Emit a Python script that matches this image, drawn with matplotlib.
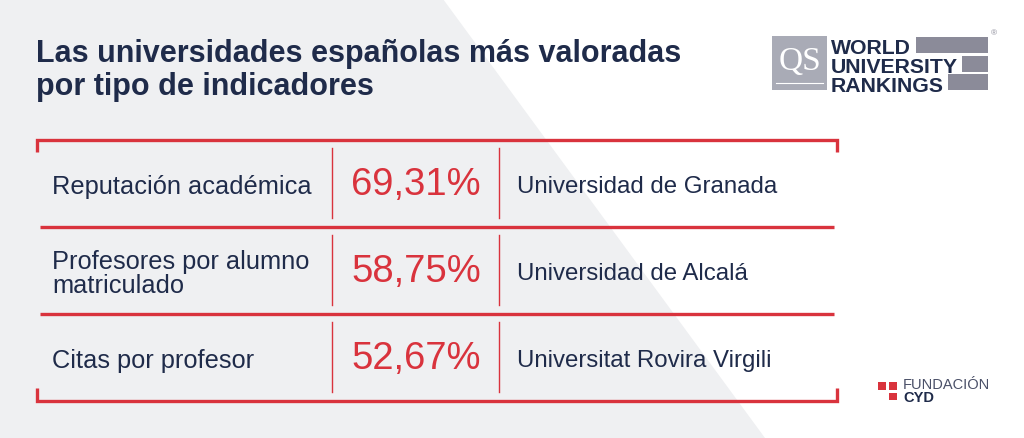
import matplotlib
matplotlib.use("Agg")
import matplotlib.pyplot as plt
from matplotlib.patches import Polygon, Rectangle

# ── datos ────────────────────────────────────────────────
indicadores   = ["Reputación académica", "Profesores por alumno\nmatriculado", "Citas por profesor"]
porcentajes   = [69.31, 58.75, 52.67]
universidades = ["Universidad de Granada", "Universidad de Alcalá", "Universitat Rovira Virgili"]
titulo        = ["Las universidades españolas más valoradas", "por tipo de indicadores"]
qs_lineas     = ["WORLD", "UNIVERSITY", "RANKINGS"]

NAVY = "#1f2b4a"
RED  = "#d9333d"
GRAY = "#eff0f2"
FONT = "Liberation Sans"

W, H = 1024, 439
fig = plt.figure(figsize=(W / 100, H / 100), dpi=100)
ax = fig.add_axes([0, 0, 1, 1])
ax.set_xlim(0, W)
ax.set_ylim(H, 0)
ax.axis("off")
fig.patch.set_facecolor("white")

# fondo gris con diagonal
ax.add_patch(Polygon([(0, 0), (443, 0), (765, H), (0, H)], closed=True,
                     facecolor=GRAY, edgecolor="none", zorder=0))

# título, una línea cada vez
for linea, yb in zip(titulo, [62, 95]):
    ax.text(36, yb, linea, fontsize=22, fontweight="bold", color=NAVY,
            family=FONT, va="baseline", ha="left")

# ── tabla ────────────────────────────────────────────────
top, bottom = 141, 402
left, right = 37, 837
row_h = (bottom - top) / len(indicadores)
lw_main = 2.4

ax.plot([left, left, right, right], [153, top, top, 153], color=RED,
        lw=lw_main, solid_capstyle="butt", solid_joinstyle="miter")
ax.plot([left, left, right, right], [389, bottom, bottom, 389], color=RED,
        lw=lw_main, solid_capstyle="butt", solid_joinstyle="miter")
for i in range(1, len(indicadores)):
    y = top + i * row_h
    ax.plot([40, 834], [y, y], color=RED, lw=lw_main, solid_capstyle="butt")

for i, (ind, pct, uni) in enumerate(zip(indicadores, porcentajes, universidades)):
    y0 = top + i * row_h
    yc = y0 + row_h / 2
    for xv in (332, 499):
        ax.plot([xv, xv], [y0 + 8, y0 + row_h - 9], color=RED, lw=1.0)
    ax.text(52, yc + 2.5, ind, fontsize=18.3, color=NAVY, family=FONT,
            ha="left", va="center", linespacing=0.98)
    ax.text(351, yc + 1, f"{pct:.2f}".replace(".", ",") + "%", fontsize=27.5,
            color=RED, family=FONT, ha="left", va="center")
    ax.text(517, yc + 2.5, uni, fontsize=17.3, color=NAVY, family=FONT,
            ha="left", va="center")

# ── logo QS ──────────────────────────────────────────────
ax.add_patch(Rectangle((772, 37), 55, 54, facecolor="#a9abb6", edgecolor="none"))
ax.text(799.5, 62, "QS", fontsize=24, color="white", family="Liberation Serif",
        ha="center", va="center")
ax.plot([776, 823], [84, 84], color="white", lw=0.8)
ax.text(831, 38.5, "\n".join(qs_lineas), fontsize=15.3, fontweight="bold",
        color=NAVY, family=FONT, ha="left", va="top", linespacing=1.02)
for y, x_bar in [(38, 916), (56.5, 962), (74.5, 948)]:
    ax.add_patch(Rectangle((x_bar, y), 988 - x_bar, 16,
                           facecolor="#8b8b99", edgecolor="none"))
ax.text(994, 34, "®", fontsize=6, color="#8b8b99", family=FONT,
        ha="center", va="center")

# ── logo Fundación CYD ───────────────────────────────────
for sx, sy in [(878, 383), (889, 383), (889, 394)]:
    ax.add_patch(Rectangle((sx, sy), 7.5, 7.5, facecolor=RED, edgecolor="none"))
ax.text(903, 385.5, "FUNDACIÓN", fontsize=10.5, color="#4a5068", family=FONT,
        ha="left", va="center")
ax.text(903, 398, "CYD", fontsize=10.5, fontweight="bold", color=NAVY,
        family=FONT, ha="left", va="center")

fig.savefig("out.png", dpi=100)
